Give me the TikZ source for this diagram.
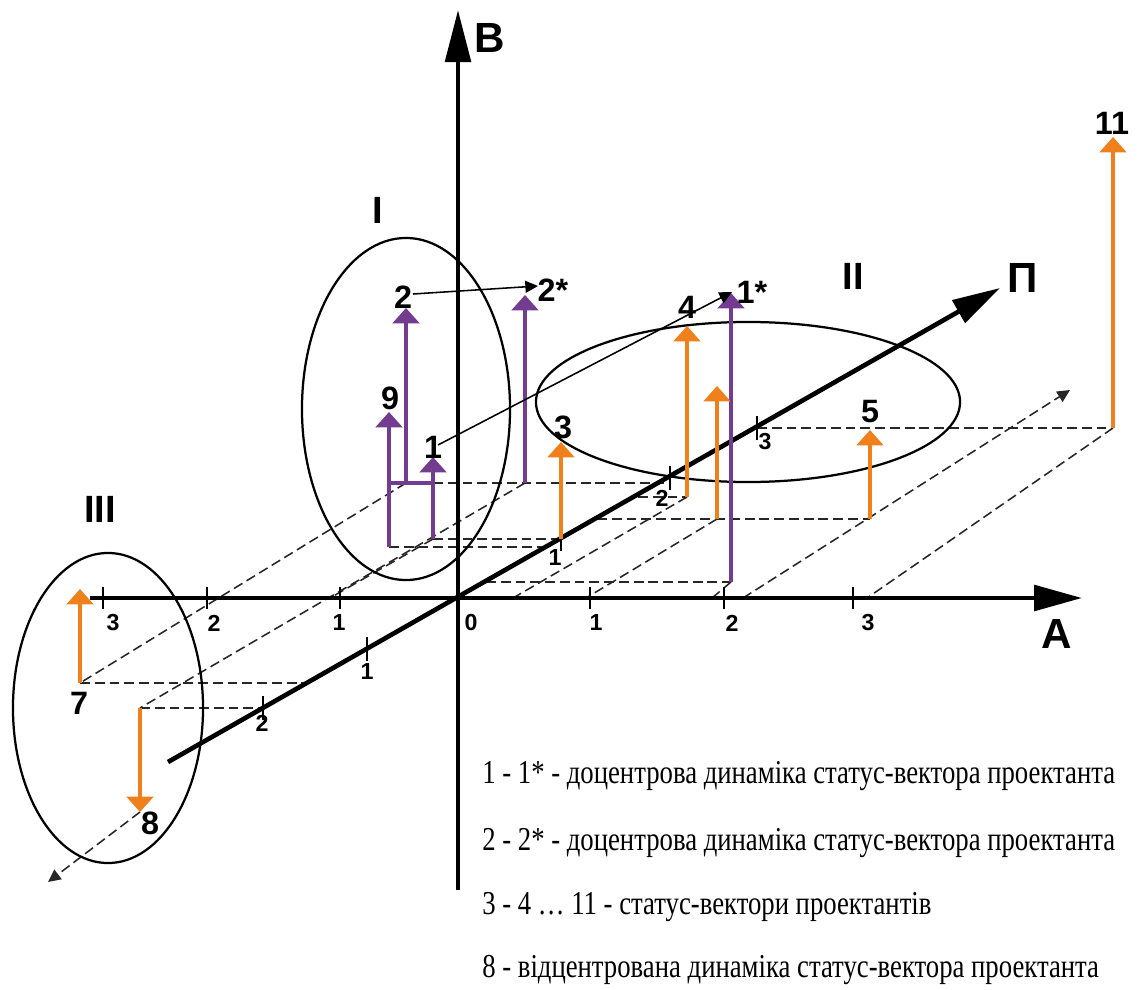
\documentclass[tikz,border=0pt]{standalone}
\usepackage{fontspec}
\usepackage{graphicx}
\setmainfont{Liberation Serif}
\newfontfamily\labfont{Liberation Sans}
\usetikzlibrary{arrows.meta}
\definecolor{vpurple}{RGB}{115,60,145}
\definecolor{vorange}{RGB}{240,128,28}
\begin{document}
\begin{tikzpicture}[x=0.025cm,y=-0.025cm,
  axisline/.style={line width=3.3pt},
  tickline/.style={line width=1.7pt},
  ring/.style={line width=1.6pt},
  proj/.style={line width=1.1pt, dash pattern=on 7pt off 3.5pt, black!85},
  pvec/.style={draw=vpurple, line width=2.5pt, -{Triangle[width=19pt,length=11pt]}},
  ovec/.style={draw=vorange, line width=2.5pt, -{Triangle[width=19pt,length=11pt]}},
  move/.style={line width=1.1pt, -{Triangle[width=8.5pt,length=9pt]}},
  vlab/.style={font=\labfont\bfseries\fontsize{23}{23}\selectfont, inner sep=0pt},
  tlab/.style={font=\labfont\bfseries\fontsize{16.5}{16.5}\selectfont, inner sep=0pt},
  alab/.style={font=\labfont\bfseries\fontsize{30}{30}\selectfont, inner sep=0pt},
  rlab/.style={font=\labfont\bfseries\fontsize{27}{27}\selectfont, inner sep=0pt},
  legend/.style={font=\fontsize{19}{22}\selectfont, anchor=west, inner sep=0pt},
]
\useasboundingbox (0,0) rectangle (1142,990);

% ---------- coordinates ----------
\coordinate (O) at (458,598);
\coordinate (Btop) at (458,10);
\coordinate (Bbot) at (458,890);
\coordinate (Aleft) at (90,598);
\coordinate (Atip) at (1082,598);
\coordinate (Plow) at (168,762);
\coordinate (Ptip) at (1000,288);

% points on the A axis
\coordinate (a330) at (330,598);
\coordinate (a513) at (513,598);
\coordinate (a588) at (586,598);
\coordinate (a712) at (712,598);
\coordinate (a743) at (743,598);
\coordinate (a867) at (867,598);
% points on the P axis
\coordinate (p483) at (664,483);
\coordinate (p539) at (561,539);
\coordinate (p547) at (548,547);
\coordinate (p497) at (638,497);
\coordinate (p519) at (597,519);
\coordinate (p582) at (486,582);
\coordinate (p428) at (757,428);
\coordinate (p683) at (304,683);
\coordinate (p708) at (263,708);

% vector bases and tips
\coordinate (b9) at (389,547);   \coordinate (t9) at (389,412);
\coordinate (b2) at (406,483);   \coordinate (t2) at (406,308);
\coordinate (b1) at (433,539);   \coordinate (t1) at (433,457);
\coordinate (b2s) at (525,483);  \coordinate (t2s) at (525,295);
\coordinate (b1s) at (731,582);  \coordinate (t1s) at (731,293);
\coordinate (j9) at (389,483);   \coordinate (j1) at (433,483);
\coordinate (b3) at (561,539);   \coordinate (t3) at (561,442);
\coordinate (b4) at (687,497);   \coordinate (t4) at (687,326);
\coordinate (bX) at (717,519);   \coordinate (tX) at (717,386);
\coordinate (b5) at (870,519);   \coordinate (t5) at (870,430);
\coordinate (b11) at (1113,428); \coordinate (t11) at (1113,137);
\coordinate (b7) at (80,683);    \coordinate (t7) at (80,589);
\coordinate (b8) at (140,708);   \coordinate (t8) at (140,812);
\coordinate (far8) at (48,882);
\coordinate (farR) at (1070,390);
\coordinate (m2) at (413,294);   \coordinate (m2s) at (538,286);
\coordinate (m1) at (438,445);   \coordinate (m1s) at (732,292);

% ---------- projection lines ----------
\draw[proj] (j1) -- (p483);
\draw[proj] (b1) -- (p539);
\draw[proj] (b9) -- (p547);
\draw[proj] (p497) -- (b4);
\draw[proj] (p519) -- (b5);
\draw[proj] (p582) -- (b1s);
\draw[proj] (p428) -- (b11);
\draw[proj] (b7) -- (p683);
\draw[proj] (b8) -- (p708);
\draw[proj] (b2) -- (b7);
\draw[proj] (b2s) -- (b8);
\draw[proj] (b1) -- (a330);
\draw[proj] (b4) -- (a513);
\draw[proj] (bX) -- (a588);
\draw[proj] (b1s) -- (a712);
\draw[proj] (b11) -- (a867);
\draw[proj, -{Triangle[width=8.5pt,length=9pt]}] (a743) -- (farR);
\draw[proj, -{Triangle[width=8.5pt,length=9pt]}] (t8) -- (far8);

% ---------- ellipses ----------
\draw[ring] (406,409) ellipse [x radius=2.6cm, y radius=4.275cm];
\draw[ring] (748,402) ellipse [x radius=5.3cm, y radius=2.0cm];
\draw[ring] (108,708) ellipse [x radius=2.375cm, y radius=3.875cm];

% ---------- axes ----------
\draw[axisline, -{Triangle[width=18pt,length=37pt]}] (Bbot) -- (Btop);
\draw[axisline, -{Triangle[width=18pt,length=34pt]}] (Aleft) -- (Atip);
\draw[axisline, -{Triangle[width=18pt,length=34pt]}] (Plow) -- (Ptip);

% ticks on A
\foreach \x in {103,207,340,590,724,853}
  \draw[tickline] (\x,587) -- (\x,609);
% ticks on P
\foreach \p in {(561,539),(670,478),(757,428),(367,649),(263,708)}
  \draw[tickline] \p ++(0,-12) -- ++(0,24);

% ---------- vectors ----------
\draw[vpurple, line width=2.5pt] (j9) -- (j1);
\draw[pvec] (b9) -- (t9);
\draw[pvec] (b2) -- (t2);
\draw[pvec] (b1) -- (t1);
\draw[pvec] (b2s) -- (t2s);
\draw[pvec] (b1s) -- (t1s);
\draw[ovec] (b3) -- (t3);
\draw[ovec] (b4) -- (t4);
\draw[ovec] (bX) -- (tX);
\draw[ovec] (b5) -- (t5);
\draw[ovec] (b11) -- (t11);
\draw[ovec] (b7) -- (t7);
\draw[ovec] (b8) -- (t8);

% movements
\draw[move] (m2) -- (m2s);
\draw[move] (m1) -- (m1s);

% ---------- labels ----------
\node[alab] (labB) at (490,38) {В};
\node[alab] (labA) at (1057,634) {А};
\node[alab] (labP) at (1023,278) {П};
\node[rlab] (labI) at (378,210) {I};
\node[rlab] (labII) at (853,276) {II};
\node[rlab] (labIII) at (100,509) {III};

\node[vlab] (n9) at (390,398) {9};
\node[vlab] (n2) at (403,297) {2};
\node[vlab] (n1) at (433,447) {1};
\node[vlab] (n2s) at (553,290) {2*};
\node[vlab] (n1s) at (752,292) {1*};
\node[vlab] (n3) at (563,427) {3};
\node[vlab] (n4) at (687,307) {4};
\node[vlab] (n5) at (870,412) {5};
\node[vlab] (n11) at (1112,123) {11};
\node[vlab] (n7) at (79,703) {7};
\node[vlab] (n8) at (150,823) {8};

\node[tlab] (ta3) at (113,623) {3};
\node[tlab] (ta2) at (214,623) {2};
\node[tlab] (ta1) at (339,623) {1};
\node[tlab] (ta0) at (471,623) {0};
\node[tlab] (tb1) at (596,623) {1};
\node[tlab] (tb2) at (732,623) {2};
\node[tlab] (tb3) at (868,623) {3};
\node[tlab] (tp1) at (555,558) {1};
\node[tlab] (tp2) at (662,498) {2};
\node[tlab] (tp3) at (765,442) {3};
\node[tlab] (tm1) at (367,672) {1};
\node[tlab] (tm2) at (262,723) {2};

% ---------- legend ----------
\node[legend] (L1) at (482,776) {\scalebox{1}[1.25]{1 - 1* - доцентрова динаміка статус-вектора проектанта}};
\node[legend] (L2) at (482,843) {\scalebox{1}[1.25]{2 - 2* - доцентрова динаміка статус-вектора проектанта}};
\node[legend] (L3) at (482,907) {\scalebox{1}[1.25]{3 - 4 … 11 - статус-вектори проектантів}};
\node[legend] (L4) at (482,970) {\scalebox{1}[1.25]{8 - відцентрована динаміка статус-вектора проектанта}};
\end{tikzpicture}
\end{document}
